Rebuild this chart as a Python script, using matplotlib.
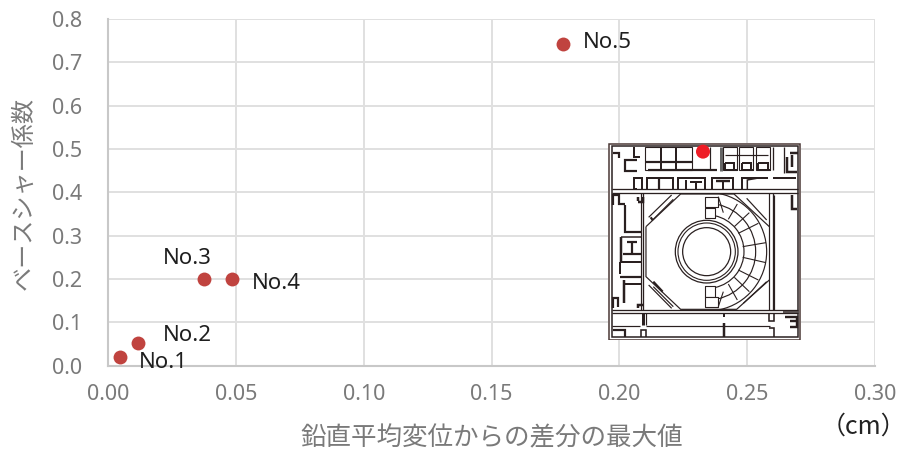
import matplotlib
matplotlib.use("Agg")
import matplotlib.pyplot as plt
from matplotlib.patches import Circle, Rectangle, Arc

plt.rcParams['font.family'] = ['Noto Sans CJK JP', 'DejaVu Sans']

# Data
names = ['No.1', 'No.2', 'No.3', 'No.4', 'No.5']
x_values = [0.0046, 0.0117, 0.0374, 0.0483, 0.178]
y_values = [0.020, 0.052, 0.200, 0.200, 0.742]
x_ticks = [0.00, 0.05, 0.10, 0.15, 0.20, 0.25, 0.30]
y_ticks = [0.0, 0.1, 0.2, 0.3, 0.4, 0.5, 0.6, 0.7, 0.8]
x_title = '鉛直平均変位からの差分の最大値'
y_title = 'ベースシャー係数'
unit = '（cm）'
label_offsets = [(19, -6), (25, 7), (-41, 20), (20, -5), (20, 2)]

W, H = 910, 455
fig = plt.figure(figsize=(W / 100, H / 100), dpi=100)
ax = fig.add_axes([108.3 / W, 1 - 365.5 / H, (875 - 108.3) / W, (365.5 - 19) / H])
ax.set_xlim(0, 0.30)
ax.set_ylim(0, 0.8)
ax.set_xticks(x_ticks, [f'{v:.2f}' for v in x_ticks])
ax.set_yticks(y_ticks, [f'{v:.1f}' for v in y_ticks])
ax.grid(True, color='#e0e0e0', lw=1.4)
ax.set_axisbelow(True)
for side in ['top', 'right']:
    ax.spines[side].set_visible(False)
for side in ['left', 'bottom']:
    ax.spines[side].set_color('#c8c8c8')
    ax.spines[side].set_linewidth(1.5)
ax.tick_params(length=0, labelsize=15.5, labelcolor='#7a7a7a')
ax.tick_params(axis='x', pad=13)
ax.tick_params(axis='y', pad=19)
for lab in ax.get_xticklabels() + ax.get_yticklabels():
    lab.set_family('Noto Sans')

ax.scatter(x_values, y_values, s=100, color='#c0433f', zorder=5, clip_on=False, linewidths=0)
for n, xv, yv, off in zip(names, x_values, y_values, label_offsets):
    ax.annotate(n, (xv, yv), xytext=off, textcoords='offset pixels', fontsize=16,
                family='Noto Sans', color='#1f1f1f', ha='left', va='center', zorder=6)

fig.text(492 / W, 1 - 438 / H, x_title, fontsize=18.4, color='#7a7a7a', ha='center', va='center')
fig.text(24 / W, 1 - 193 / H, y_title, fontsize=17.4, color='#7a7a7a', ha='center', va='center', rotation=90)
fig.text(906 / W, 1 - 427 / H, unit, fontsize=18, color='#222222', ha='right', va='center')

# Floor-plan picture inset (drawing coordinates = zoomed-image units)
ix0, ix1, iy0, iy1 = 608.3, 801, 143.3, 340
pic = fig.add_axes([ix0 / W, 1 - iy1 / H, (ix1 - ix0) / W, (iy1 - iy0) / H], zorder=10)
pic.set_xlim(55, 633)
pic.set_ylim(630, 40)
pic.axis('off')
pic.add_patch(Rectangle((55, 40), 578, 590, fc='white', ec='none'))
LC = '#2a2020'
S = 0.72

def seg(*pts, lw=1.5, c=LC):
    xs, ys = zip(*pts)
    pic.plot(xs, ys, color=c, lw=lw * S, solid_capstyle='butt', solid_joinstyle='miter')

# outer walls
pic.add_patch(Rectangle((57, 41), 574, 588, fill=False, ec='#4a3835', lw=1.1))
pic.add_patch(Rectangle((65, 49), 558, 572, fill=False, ec=LC, lw=1.1))
# horizontal bands
for y in [178, 188, 540, 550]:
    seg((65, y), (623, y), lw=1.3)
# vertical zones
for x in [160, 548]:
    seg((x, 188), (x, 540), lw=1.3)
seg((152, 188), (152, 540), lw=1.2)
seg((538, 188), (538, 540), lw=1.2)
# top rooms
for (a, b, c, d) in [(165, 52, 305, 120), (400, 52, 440, 120), (448, 52, 490, 120), (498, 52, 540, 120)]:
    pic.add_patch(Rectangle((a, b), c - a, d - b, fill=False, ec=LC, lw=0.8))
seg((165, 95), (305, 95), lw=2.2)
seg((212, 55), (212, 118), lw=2)
seg((258, 55), (258, 118), lw=2)
seg((175, 120), (380, 120), lw=2.2)
seg((140, 90), (105, 90), (105, 122), (140, 122), lw=2.2)
seg((132, 50), (132, 80), (150, 80), lw=2)
seg((68, 68), (88, 68), (88, 85), lw=2.2)
seg((360, 50), (360, 120), lw=1.2)
seg((392, 50), (392, 122), lw=3, c='#666666')
seg((405, 75), (535, 75), lw=1.2)
for x in [405, 455, 505]:
    seg((x, 98), (x + 28, 98), (x + 28, 118), lw=2)
    seg((x, 98), (x, 120), (x + 38, 120), lw=2)
seg((550, 50), (550, 120), lw=1.3)
seg((582, 50), (582, 130), lw=1.3)
seg((600, 70), (623, 70), lw=2.5)
seg((590, 80), (590, 125), (620, 125), lw=2.5)
seg((605, 75), (605, 110), lw=2.5)
# corridor rooms
seg((140, 178), (132, 178), (132, 143), (155, 143), (155, 178), lw=2)
seg((172, 178), (172, 145), (248, 145), (248, 178), lw=2)
seg((208, 145), (208, 178), lw=2.2)
seg((265, 178), (265, 145), (345, 145), (345, 178), lw=2)
seg((288, 178), (288, 150), lw=2)
seg((300, 157), (335, 157), lw=2)
seg((318, 157), (318, 178), lw=2)
seg((365, 178), (365, 145), (430, 145), (430, 178), lw=2)
seg((378, 153), (420, 153), lw=2.4)
seg((400, 153), (400, 178), lw=2)
seg((455, 178), (455, 145), (535, 145), lw=2)
seg((472, 178), (472, 150), (500, 145), lw=1.5)
seg((550, 145), (618, 145), lw=2)
# hall octagon
seg((168, 290), (272, 192), (432, 192), (538, 290), lw=1.2)
seg((168, 290), (168, 440), (272, 538), (440, 538), (538, 450), lw=1.2)
seg((176, 262), (245, 195), lw=1.2)
seg((186, 272), (250, 208), lw=1.2)
seg((176, 465), (245, 535), lw=1.2)
seg((190, 470), (250, 530), lw=1.2)
seg((470, 205), (530, 270), lw=1.2)
seg((460, 520), (530, 455), lw=1.2)
seg((160, 200), (160, 215), (145, 215), lw=2.5)
seg((160, 525), (145, 525), (145, 535), lw=2.5)
seg((190, 455), (218, 485), lw=2.2)
seg((182, 262), (188, 270), lw=2.2)
# central ring
for r, lw in [(94, 0.9), (86, 0.8), (72, 0.9)]:
    pic.add_patch(Circle((350, 365), r, fill=False, ec=LC, lw=lw))
# fan seating
cx, cy = 352, 365
for r in [110, 145, 178]:
    pic.add_patch(Arc((cx, cy), 2 * r, 2 * r, theta1=-78, theta2=78, ec=LC, lw=0.85))
seg((385, 200), (400, 248), lw=1.1)
seg((442, 222), (415, 268), lw=1.1)
seg((505, 280), (445, 310), lw=1.1)
seg((478, 248), (433, 290), lw=1.1)
seg((528, 338), (458, 350), lw=1.1)
seg((528, 398), (458, 382), lw=1.1)
seg((505, 450), (445, 420), lw=1.1)
seg((478, 485), (433, 442), lw=1.1)
seg((442, 510), (415, 462), lw=1.1)
seg((385, 530), (400, 485), lw=1.1)
for (a, b, w, h) in [(345, 200, 40, 32), (345, 233, 30, 32), (345, 468, 30, 32), (345, 500, 40, 32)]:
    pic.add_patch(Rectangle((a, b), w, h, fc='white', ec=LC, lw=0.8, joinstyle='round'))
# west rooms
seg((68, 225), (68, 195), (88, 195), (88, 222), (105, 222), lw=2.2)
seg((105, 225), (105, 305), (152, 305), lw=2.2)
seg((92, 320), (92, 395), lw=2.5)
seg((92, 320), (152, 320), lw=1.5)
seg((110, 335), (140, 335), lw=2.2)
seg((125, 335), (125, 370), lw=2.2)
seg((100, 372), (152, 372), lw=2.2)
seg((90, 395), (152, 395), lw=2)
seg((90, 395), (90, 432), lw=2)
seg((90, 440), (152, 440), lw=2.2)
seg((103, 450), (103, 520), lw=2.5)
seg((103, 462), (152, 462), lw=2)
seg((68, 535), (68, 505), (84, 505), (84, 530), lw=2.2)
seg((145, 200), (145, 212), lw=2.5)
# east
seg((605, 195), (605, 238), (620, 238), lw=2.5)
seg((552, 195), (552, 540), lw=1.2)
# south rooms
seg((158, 550), (158, 585), lw=3)
seg((168, 550), (168, 585), lw=1.2)
seg((65, 588), (150, 588), lw=1.2)
seg((168, 588), (540, 588), lw=1.2)
seg((552, 550), (552, 572), (538, 572), (538, 550), lw=1.6)
seg((538, 595), (552, 595), (552, 620), lw=1.6)
seg((152, 620), (152, 600), (168, 600), (168, 620), lw=1.6)
seg((402, 552), (402, 560), lw=2)
seg((402, 578), (402, 620), lw=2.5)
seg((68, 600), (105, 600), (105, 620), lw=2.2)
seg((580, 545), (622, 545), lw=1.5)
seg((585, 560), (622, 560), (622, 590), (600, 590), lw=2.4)
seg((600, 572), (620, 572), lw=2.4)
# red locator dot on the picture
pic.add_patch(Circle((339, 65), 21, fc='#ee1c25', ec='none', zorder=5))

fig.savefig('out.png', dpi=100)
